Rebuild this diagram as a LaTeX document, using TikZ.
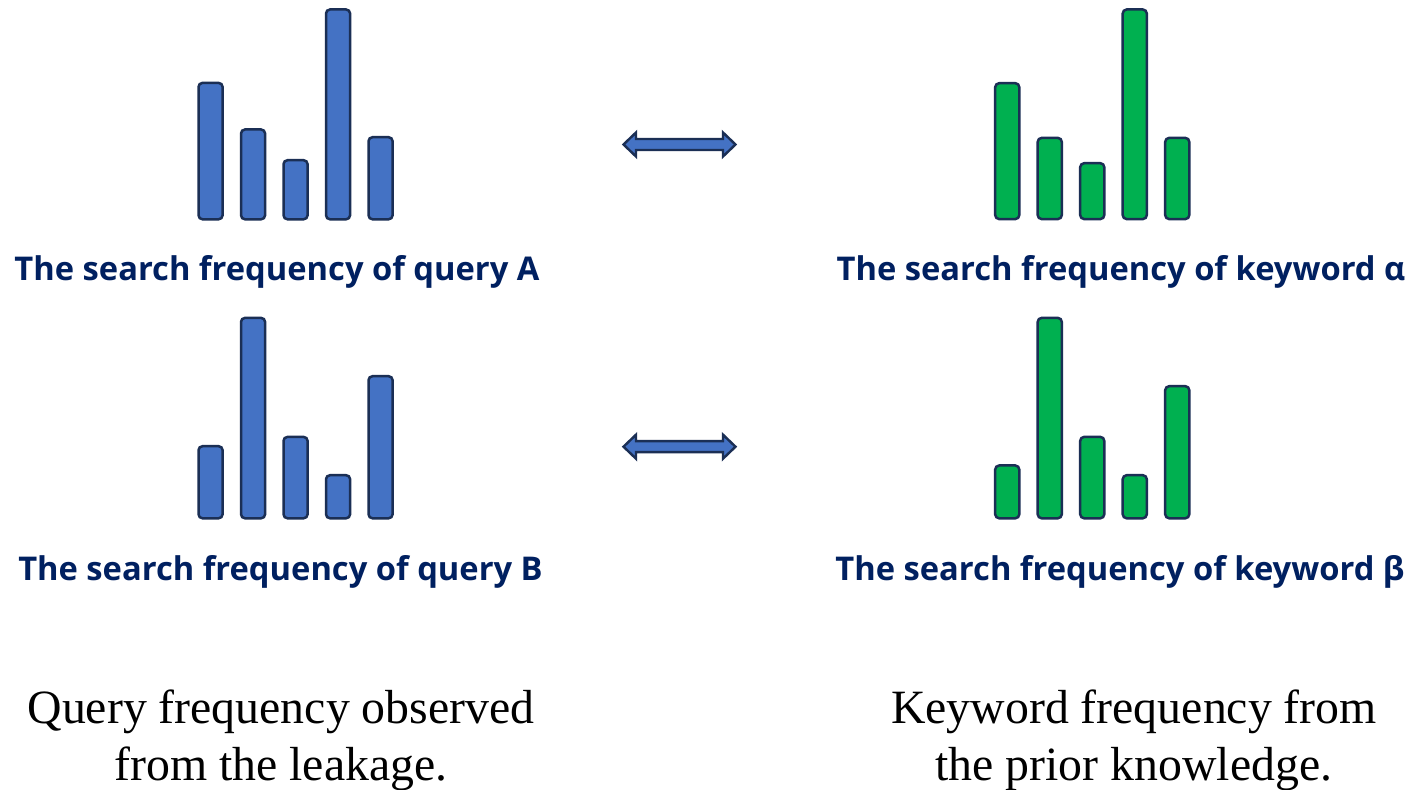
\documentclass[tikz,border=0pt]{standalone}
\usepackage{fontspec}
\setmainfont{Liberation Serif}
\newfontfamily\labelfont{Open Sans}
\definecolor{barblue}{HTML}{4472C4}
\definecolor{bargreen}{HTML}{00B050}
\definecolor{baredge}{HTML}{1B2F55}
\definecolor{labelnavy}{HTML}{002060}

% one bar of a histogram: left x, top y, bottom y (pixel-like units, y downward)
\newcommand{\freqbar}[4]{%
  \draw[histbar,fill=#1] ({#2+1.2},{#3+1.2}) rectangle ({#2+25.3},{#4-1.2});}

% horizontal double-headed block arrow centred at (x1..x2, y)
\newcommand{\dblarrow}[3]{%
  \draw[blockarrow] (#1,#3) -- ({#1+12.5},{#3-12}) -- ({#1+12.5},{#3-5.5})
    -- ({#2-12.5},{#3-5.5}) -- ({#2-12.5},{#3-12}) -- (#2,#3)
    -- ({#2-12.5},{#3+12}) -- ({#2-12.5},{#3+5.5}) -- ({#1+12.5},{#3+5.5})
    -- ({#1+12.5},{#3+12}) -- cycle;}

\begin{document}
\begin{tikzpicture}[x=0.5pt,y=-0.5pt,
  histbar/.style={draw=baredge,line width=1.25pt,rounded corners=2pt},
  blockarrow/.style={draw=baredge,fill=barblue,line width=1.2pt,line join=miter},
  freqlabel/.style={font=\labelfont\bfseries\fontsize{16.35}{19}\selectfont,
    text=labelnavy,inner sep=0pt,anchor=base},
  caption/.style={font=\fontsize{23.9}{28.7}\selectfont,align=center,
    inner sep=0pt,anchor=base}]
\useasboundingbox[fill=white] (0,0) rectangle (1410,790);

% query A (observed)
\freqbar{barblue}{197.3}{81.7}{220.5}
\freqbar{barblue}{239.8}{128.3}{220.5}
\freqbar{barblue}{282.3}{159}{220.5}
\freqbar{barblue}{324.8}{8.3}{220.5}
\freqbar{barblue}{367.3}{136}{220.5}

% keyword alpha (prior knowledge)
\freqbar{bargreen}{994}{82}{220.3}
\freqbar{bargreen}{1036.5}{136.7}{220.3}
\freqbar{bargreen}{1079}{162}{220.3}
\freqbar{bargreen}{1121.5}{8.3}{220.3}
\freqbar{bargreen}{1164}{136.7}{220.3}

% query B (observed)
\freqbar{barblue}{197.3}{445}{519.5}
\freqbar{barblue}{239.8}{316.7}{519.5}
\freqbar{barblue}{282.3}{435.7}{519.5}
\freqbar{barblue}{324.8}{474}{519.5}
\freqbar{barblue}{367.3}{375}{519.5}

% keyword beta (prior knowledge)
\freqbar{bargreen}{994}{464.3}{519.5}
\freqbar{bargreen}{1036.5}{316.7}{519.5}
\freqbar{bargreen}{1079}{435.7}{519.5}
\freqbar{bargreen}{1121.5}{474}{519.5}
\freqbar{bargreen}{1164}{385}{519.5}

% correspondence arrows
\dblarrow{623.5}{735.5}{144.5}
\dblarrow{623.5}{735.5}{446.7}

% histogram captions
\node[freqlabel] (labA) at (277,281) {The search frequency of query A};
\node[freqlabel] (labAlpha) at (1121,281) {The search frequency of keyword α};
\node[freqlabel] (labB) at (280.5,581) {The search frequency of query B};
\node[freqlabel] (labBeta) at (1120,581) {The search frequency of keyword β};

% column descriptions (anchored on the baseline of the second line)
\node[caption] (obs) at (281,781) {Query frequency observed\\from the leakage.};
\node[caption] (prior) at (1134,781) {Keyword frequency from\\the prior knowledge.};
\end{tikzpicture}
\end{document}
